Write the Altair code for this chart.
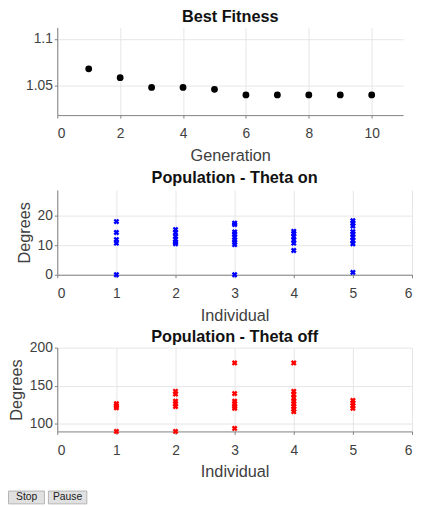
import altair as alt
import pandas as pd

# ---- data ----
generation = [1, 2, 3, 4, 5, 6, 7, 8, 9, 10]
best_fitness = [1.068, 1.0585, 1.048, 1.048, 1.046, 1.040, 1.040, 1.040, 1.040, 1.040]

on_ind_1 = [18, 14.3, 11.9, 10.7, 0]
on_ind_2 = [15.3, 14.2, 13, 12, 11, 10.5]
on_ind_3 = [17.5, 17, 14.5, 13.8, 12.7, 11.8, 11, 10.2, 0]
on_ind_4 = [14.7, 14, 12.9, 11.8, 10.7, 8.2]
on_ind_5 = [18.3, 17.5, 16.5, 14.6, 13.8, 12.7, 11.6, 10.5, 0.8]

off_ind_1 = [126.3, 123.7, 121.1, 90]
off_ind_2 = [142.7, 139.2, 129.7, 126.3, 122.8, 90]
off_ind_3 = [180, 139.7, 129.7, 126.3, 122.8, 120.3, 94]
off_ind_4 = [180, 142.7, 138.4, 134, 129.7, 126.3, 122.8, 119.4, 116]
off_ind_5 = [130.6, 127.2, 123.7, 120.3]

button_labels = ["Stop", "Pause"]

FONT = "Liberation Sans"
XPATH = "M-1,-1L1,1M-1,1L1,-1"


def long_df(groups):
    rows = []
    for i, vals in enumerate(groups, start=1):
        for v in vals:
            rows.append({"Individual": i, "Degrees": v})
    return pd.DataFrame(rows)


df_fit = pd.DataFrame({"Generation": generation, "Fitness": best_fitness})
df_on = long_df([on_ind_1, on_ind_2, on_ind_3, on_ind_4, on_ind_5])
df_off = long_df([off_ind_1, off_ind_2, off_ind_3, off_ind_4, off_ind_5])

axis_common = dict(
    labelFont=FONT, labelFontSize=14, labelColor="#404040",
    titleFont=FONT, titleFontSize=16.5, titleFontWeight="normal", titleColor="#404040",
    domainColor="#808080", tickColor="#808080", tickSize=3,
    gridColor="#e6e6e6",
)
xaxis = dict(labelPadding=9, titlePadding=7, **axis_common)
yaxis = dict(labelPadding=2, titlePadding=5, **axis_common)


def ttl(text, offset):
    return alt.TitleParams(text, font=FONT, fontSize=16.5, fontWeight="bold",
                           color="#111111", offset=offset)


p1 = alt.Chart(df_fit).mark_point(filled=True, color="black", size=48, opacity=1).encode(
    x=alt.X("Generation:Q", scale=alt.Scale(domain=[0, 11], nice=False),
            axis=alt.Axis(values=[0, 2, 4, 6, 8, 10], title="Generation", **xaxis)),
    y=alt.Y("Fitness:Q", scale=alt.Scale(domain=[1.0183, 1.1124], nice=False, zero=False),
            axis=alt.Axis(values=[1.05, 1.1], format="~g", title=None, **yaxis)),
).properties(width=351, height=89, title=ttl("Best Fitness", 2))

p2 = alt.Chart(df_on).mark_point(shape=XPATH, color="#0000ff", size=18, strokeWidth=2.4,
                                 filled=False, opacity=1).encode(
    x=alt.X("Individual:Q", scale=alt.Scale(domain=[0, 6], nice=False),
            axis=alt.Axis(values=[0, 1, 2, 3, 4, 5, 6], title="Individual", **xaxis)),
    y=alt.Y("Degrees:Q", scale=alt.Scale(domain=[0, 28.7], nice=False),
            axis=alt.Axis(values=[0, 10, 20], title="Degrees", **yaxis)),
).properties(width=360, height=86, title=ttl("Population - Theta on", 4))

p3 = alt.Chart(df_off).mark_point(shape=XPATH, color="#ff0000", size=18, strokeWidth=2.4,
                                  filled=False, opacity=1).encode(
    x=alt.X("Individual:Q", scale=alt.Scale(domain=[0, 6], nice=False),
            axis=alt.Axis(values=[0, 1, 2, 3, 4, 5, 6], title="Individual", **xaxis)),
    y=alt.Y("Degrees:Q", scale=alt.Scale(domain=[90, 200], nice=False, zero=False),
            axis=alt.Axis(values=[100, 150, 200], title="Degrees", **yaxis)),
).properties(width=360, height=85, title=ttl("Population - Theta off", -5))

df_btn = pd.DataFrame({"label": button_labels})
btn_base = alt.Chart(df_btn)
btn_rect = btn_base.transform_filter(alt.datum.label == "Stop").mark_rect(
    fill="#e1e1e1", stroke="#b4b4b4", strokeWidth=1).encode(
    x=alt.value(-49.5), x2=alt.value(-13), y=alt.value(5.5), y2=alt.value(18.5))
btn_rect2 = btn_base.transform_filter(alt.datum.label == "Pause").mark_rect(
    fill="#e1e1e1", stroke="#b4b4b4", strokeWidth=1).encode(
    x=alt.value(-9), x2=alt.value(30), y=alt.value(5.5), y2=alt.value(18.5))
btn_txt = btn_base.transform_filter(alt.datum.label == "Stop").mark_text(
    font=FONT, fontSize=10.5, color="#222222").encode(
    text="label:N", x=alt.value(-31), y=alt.value(12))
btn_txt2 = btn_base.transform_filter(alt.datum.label == "Pause").mark_text(
    font=FONT, fontSize=10.5, color="#222222").encode(
    text="label:N", x=alt.value(10.5), y=alt.value(12))
buttons = alt.layer(btn_rect, btn_rect2, btn_txt, btn_txt2).properties(width=360, height=19)

chart = alt.vconcat(p1, p2, p3, buttons, spacing=5).properties(
    padding={"left": 0, "top": -3, "right": 0, "bottom": 0},
    background="white",
).configure_view(stroke=None)

chart.save("out.html", embed_options={"renderer": "svg", "actions": False})
